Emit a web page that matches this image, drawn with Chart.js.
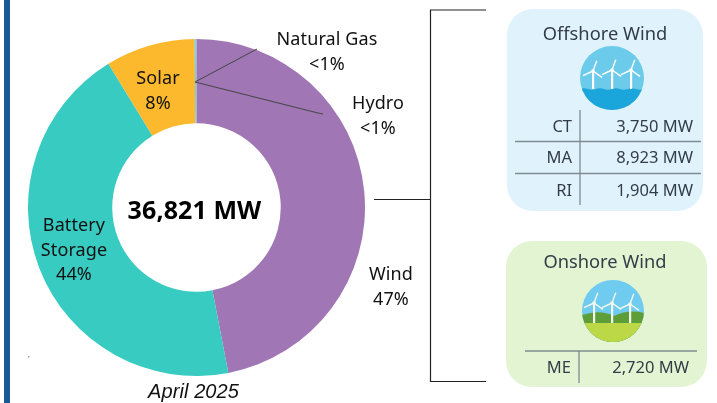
<!DOCTYPE html>
<html>
<head>
<meta charset="utf-8">
<script src="https://cdn.jsdelivr.net/npm/chart.js@4"></script>
<style>
    html, body { margin: 0; padding: 0; background: #fff; }
    body { position: relative; width: 717px; height: 403px; overflow: hidden; font-family: "Noto Sans", sans-serif; color: #111; }
    #bar { position: absolute; left: 4px; top: 0; width: 6px; height: 403px; background: #175a96; }
    #wrap { position: absolute; left: 28px; top: 39px; width: 337px; height: 337px; }
    #lines { position: absolute; left: 0; top: 0; }
    .lbl { position: absolute; transform: translate(-50%, -50%); font-size: 18px; letter-spacing: 0.1px; line-height: 24.5px; white-space: nowrap; text-align: center; }
    #total { font-size: 25px; font-weight: 700; color: #000; }
    #month { font-family: "Liberation Sans", sans-serif; font-style: italic; font-size: 20px; }
    .card { position: absolute; border-radius: 26px; }
    #off { left: 507px; top: 9px; width: 196px; height: 202px; background: #e0f3fc; }
    #on { left: 506px; top: 241px; width: 201px; height: 146px; background: #e3f4d3; }
    .head { position: absolute; transform: translate(-50%, -50%); font-size: 18.3px; color: #333d47; white-space: nowrap; }
    .cell { position: absolute; transform: translate(-100%, -50%); font-size: 16.5px; color: #333d47; white-space: nowrap; }
</style>
</head>
<body>
<div id="bar"></div>
<div class="card" id="off"></div>
<div class="card" id="on"></div>
<div id="wrap"><canvas id="donut" width="337" height="337"></canvas></div>
<svg id="lines" width="717" height="403"></svg>
<div id="texts"></div>

<script>
const categories = ['Wind', 'Battery Storage', 'Solar', 'Hydro', 'Natural Gas'];
const capacity = [17297, 16300, 3154, 40, 30];
const colors = ['#a076b5', '#38cbc1', '#fdb92e', '#5bc5e8', '#7fb4d8'];

const offshoreStates = ['CT', 'MA', 'RI'];
const offshoreMW = ['3,750 MW', '8,923 MW', '1,904 MW'];
const onshoreStates = ['ME'];
const onshoreMW = ['2,720 MW'];

new Chart(document.getElementById('donut').getContext('2d'), {
    type: 'doughnut',
    data: {
        labels: categories,
        datasets: [{
            data: capacity,
            backgroundColor: colors,
            borderWidth: 0
        }]
    },
    options: {
        responsive: false,
        animation: false,
        cutout: '50%',
        layout: { padding: 0 },
        plugins: {
            legend: { display: false },
            tooltip: { enabled: false }
        }
    }
});

// text labels
const texts = document.getElementById('texts');
function addText(cls, x, y, html, id) {
    const d = document.createElement('div');
    d.className = cls;
    d.style.left = x + 'px';
    d.style.top = y + 'px';
    d.innerHTML = html;
    if (id) d.id = id;
    texts.appendChild(d);
}
addText('lbl', 158, 89, 'Solar<br>8%');
addText('lbl', 327, 50, 'Natural Gas<br>&lt;1%');
addText('lbl', 378, 114, 'Hydro<br>&lt;1%');
addText('lbl', 74, 249, 'Battery<br>Storage<br>44%');
addText('lbl', 391, 285, 'Wind<br>47%');
addText('lbl', 194.5, 209, '36,821 MW', 'total');
addText('lbl', 193.5, 391, 'April 2025', 'month');

addText('head', 605, 32, 'Offshore Wind');
addText('head', 605, 260, 'Onshore Wind');
const offRows = [125, 156, 189];
offshoreStates.forEach((s, i) => {
    addText('cell', 572, offRows[i], s);
    addText('cell', 693, offRows[i], offshoreMW[i]);
});
onshoreStates.forEach((s, i) => {
    addText('cell', 571, 366, s);
    addText('cell', 689, 366, onshoreMW[i]);
});

// leader lines, bracket, table rules and the two turbine icons
function turbine(x, y, h, c) {
    const blade = (a) => {
        const r = a * Math.PI / 180;
        return `<line x1="${x}" y1="${y}" x2="${x + 11 * Math.sin(r)}" y2="${y - 11 * Math.cos(r)}" stroke="${c}" stroke-width="1.4"/>`;
    };
    return `<rect x="${x - 1}" y="${y}" width="2.2" height="${h}" fill="${c}"/><circle cx="${x}" cy="${y}" r="1.8" fill="${c}"/>` + blade(20) + blade(125) + blade(245);
}
function rule(x1, y1, x2, y2, c, w) {
    return `<line x1="${x1}" y1="${y1}" x2="${x2}" y2="${y2}" stroke="${c}" stroke-width="${w}"/>`;
}
const grey = '#7f8c8f';
let svg = '<defs><clipPath id="c1"><circle cx="612" cy="78" r="32"/></clipPath><clipPath id="c2"><circle cx="613" cy="311" r="31"/></clipPath></defs>';
svg += '<polyline points="195,82 257,49" fill="none" stroke="#444" stroke-width="1"/>';
svg += '<polyline points="195,82 318,113 323,114" fill="none" stroke="#444" stroke-width="1"/>';
svg += '<polyline points="486,10 430.5,10 430.5,381.5 486,381.5" fill="none" stroke="#222" stroke-width="1.2"/>';
svg += rule(374, 199.5, 430, 199.5, '#222', 1.2);
svg += rule(515, 141.5, 701, 141.5, grey, 1.3) + rule(515, 173.5, 701, 173.5, grey, 1.3) + rule(580, 110, 580, 205, grey, 1.3);
svg += rule(525, 351, 697, 351, grey, 1.3) + rule(579, 351, 579, 383, grey, 1.3);

svg += '<g clip-path="url(#c1)"><rect x="580" y="46" width="64" height="64" fill="#6ccbeb"/>';
svg += '<path d="M580 89 q4 -1.5 8 0 t8 0 t8 0 t8 0 t8 0 t8 0 t8 0 t8 0 V110 H580 Z" fill="#1aa5db"/>';
svg += turbine(593, 71, 18, '#fff') + turbine(612, 70, 19, '#fff') + turbine(631, 70, 19, '#fff') + '</g>';

svg += '<g clip-path="url(#c2)"><rect x="582" y="280" width="62" height="62" fill="#6fcbef"/>';
svg += '<path d="M582 315 q18 -6 32 1 q15 -7 30 -3 V342 H582 Z" fill="#5e9e38"/>';
svg += '<path d="M582 323 H644 V342 H582 Z" fill="#bcd846"/>';
svg += turbine(594, 303, 20, '#f4f8ea') + turbine(612, 303, 20, '#f4f8ea') + turbine(630, 304, 19, '#f4f8ea') + '</g>';
svg += '<rect x="28" y="356" width="1.5" height="1.5" fill="#9aa5a8"/>';
document.getElementById('lines').innerHTML = svg;
</script>
</body>
</html>
